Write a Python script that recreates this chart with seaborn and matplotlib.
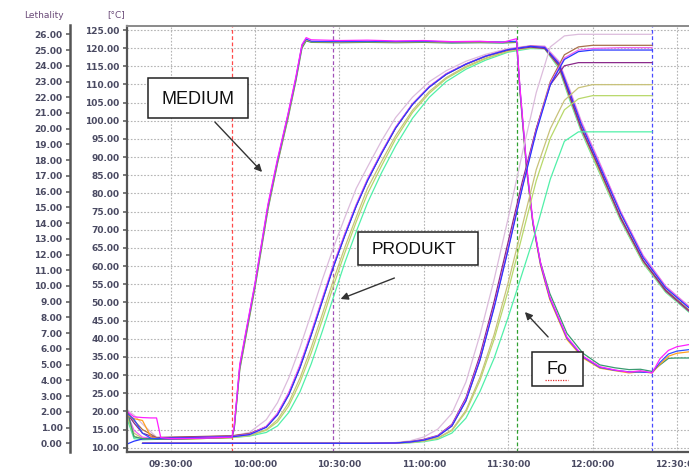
import numpy as np
import pandas as pd
import matplotlib
matplotlib.use('Agg')
import matplotlib.pyplot as plt
from matplotlib.patches import Rectangle
from matplotlib.lines import Line2D
import seaborn as sns

# zeit in minuten ab 09:00:00
tick_minutes = [30, 60, 90, 120, 150, 180, 210]
tick_labels = ['09:30:00', '10:00:00', '10:30:00', '11:00:00', '11:30:00', '12:00:00', '12:30:00']

# ereignis-marker (phasenwechsel)
event_minutes = [51.8, 87.6, 153.0, 201.2]
event_colors = ['#ff4a4a', '#a050b8', '#30a030', '#4a4aff']

# MEDIUM temperatur [°C]
medium_t = [14.5, 17, 20, 23, 25, 26.5, 30, 40, 51.8, 52.6, 54.6, 57, 60, 64.6, 68, 71.7, 74.5, 76.7,
            78.2, 80, 90, 100, 110, 120, 130, 140, 148, 153, 154.2, 156.6, 158.8, 161.5, 164.8,
            170.9, 176.6, 182.6, 188, 193, 197, 201.2, 204, 207, 210, 214.3]
medium_m1 = [20.5, 13.0, 12.5, 12.4, 12.3, 12.3, 12.3, 12.5, 12.8, 15.0, 31.5, 41.5, 54.0, 75.5, 88.2,
             100.5, 110.8, 120.0, 122.0, 121.6, 121.5, 121.6, 121.5, 121.6, 121.4, 121.5, 121.4, 121.6,
             108.0, 86.2, 71.8, 61.0, 52.5, 41.5, 36.0, 32.8, 32.0, 31.5, 31.6, 31.0, 32.8, 34.6, 34.7, 34.7]
medium_m2 = [19.0, 18.0, 17.5, 13.0, 12.6, 12.5, 12.4, 12.5, 12.8, 15.2, 32.0, 42.0, 54.6, 76.0, 88.6,
             101.0, 111.2, 120.5, 122.3, 121.8, 121.7, 121.8, 121.7, 121.8, 121.6, 121.7, 121.6, 121.8,
             108.5, 86.6, 71.6, 60.2, 50.8, 39.8, 34.7, 31.9, 31.2, 30.6, 30.9, 30.6, 33.0, 35.2, 36.0, 36.4]
medium_m3 = [19.5, 17.8, 14.0, 12.6, 12.5, 12.5, 12.4, 12.6, 12.9, 15.5, 32.5, 42.5, 55.0, 76.5, 89.0,
             101.5, 111.5, 120.8, 122.5, 121.9, 121.8, 121.9, 121.8, 121.9, 121.7, 121.8, 121.7, 121.9,
             108.8, 87.0, 72.0, 60.6, 51.2, 40.2, 35.0, 32.1, 31.3, 30.9, 30.8, 30.7, 33.5, 35.8, 36.6, 37.0]
medium_m4 = [20.0, 18.5, 18.3, 18.2, 18.2, 12.8, 12.5, 12.6, 12.9, 16.0, 33.0, 43.0, 55.3, 77.0, 89.5,
             101.8, 112.0, 121.0, 122.9, 122.3, 122.1, 122.2, 122.0, 122.1, 121.8, 121.9, 121.6, 122.6,
             109.3, 87.5, 72.5, 61.0, 51.5, 40.5, 35.2, 32.3, 31.4, 30.8, 31.2, 30.6, 34.5, 36.8, 37.8, 38.4]

# PRODUKT temperatur [°C]
produkt_t = [14.5, 17, 20, 25, 51.8, 58, 64, 68, 72, 76, 80, 84, 88, 92, 96, 100, 105, 110, 116, 122,
             128, 135, 142, 150, 158, 163, 168, 172, 176, 182, 190, 198, 206, 214.3]
produkt_p1 = [20.5, 19.0, 16.5, 12.9, 13.2, 14.2, 17.7, 22.4, 29.2, 37.6, 46.9, 56.4, 65.3, 73.5, 81.4,
              87.3, 94.5, 100.9, 106.5, 110.8, 113.8, 116.4, 118.3, 119.9, 120.7, 120.6, 116.5, 108.5,
              100.0, 89.5, 75.0, 63.0, 54.5, 49.0]
produkt_p2 = [18.0, 12.5, 12.2, 12.3, 12.8, 13.2, 14.2, 16.0, 19.7, 25.4, 33.1, 42.2, 51.7, 61.1, 69.5,
              77.4, 85.7, 93.1, 100.7, 106.5, 110.8, 114.2, 116.7, 118.9, 119.9, 119.8, 114.5, 105.5,
              97.0, 86.5, 72.5, 60.8, 52.8, 47.3]
produkt_p3 = [18.8, 13.2, 12.4, 12.3, 12.8, 13.3, 14.8, 17.1, 21.5, 28.0, 36.1, 45.3, 54.8, 63.8, 72.2,
              79.9, 87.6, 95.0, 102.3, 107.6, 111.6, 114.7, 117.1, 119.1, 120.1, 119.9, 114.8, 106.0,
              97.4, 86.8, 72.8, 61.0, 53.0, 47.5]
produkt_p4 = [19.2, 14.0, 12.6, 12.4, 12.9, 13.4, 15.0, 17.7, 22.4, 29.2, 37.6, 46.9, 56.4, 65.3, 73.5,
              81.4, 88.8, 95.9, 102.9, 108.1, 111.9, 115.0, 117.3, 119.3, 120.2, 120.0, 115.0, 106.2,
              97.6, 87.0, 73.0, 61.2, 53.2, 47.6]
produkt_p5 = [19.8, 17.5, 15.0, 12.8, 13.3, 13.9, 15.7, 19.1, 24.6, 32.1, 41.1, 50.6, 60.1, 68.6, 76.6,
              83.6, 91.1, 98.0, 104.5, 109.3, 112.8, 115.6, 117.8, 119.6, 120.6, 120.3, 115.6, 106.8,
              98.2, 87.5, 73.5, 61.5, 53.5, 47.9]
produkt_p6 = [19.5, 16.8, 14.0, 12.7, 13.2, 13.8, 15.8, 19.3, 24.9, 32.4, 41.4, 50.9, 60.3, 68.8, 76.7,
              83.7, 91.2, 98.1, 104.6, 109.4, 112.9, 115.6, 117.8, 119.5, 120.3, 119.9, 115.2, 106.5,
              97.8, 87.8, 73.2, 61.5, 53.2, 47.6]
produkt_p7 = [19.5, 14.8, 12.9, 12.5, 13.1, 13.7, 15.9, 19.5, 25.2, 32.8, 41.8, 51.3, 60.7, 69.1, 77.0,
              84.0, 91.4, 98.3, 104.7, 109.5, 113.0, 115.7, 117.9, 119.7, 120.6, 120.4, 116.2, 108.0,
              99.6, 89.2, 75.0, 62.8, 54.4, 48.8]
produkt_p8 = [11.0, 11.8, 12.4, 12.6, 13.0, 13.6, 15.6, 19.0, 24.5, 32.0, 41.0, 50.5, 60.0, 68.5, 76.5,
              83.5, 91.0, 98.0, 104.5, 109.3, 112.8, 115.6, 117.8, 119.6, 120.5, 120.2, 115.8, 107.5,
              99.0, 88.5, 74.5, 62.3, 54.0, 48.5]

# Fo (lethality)
fo_t = [20, 51.8, 100, 110, 115, 120, 125, 130, 135, 140, 145, 150, 155, 160, 165, 170, 175, 180, 190, 201.2]
fo_p1 = [0, 0, 0, 0.05, 0.15, 0.4, 0.9, 1.9, 3.9, 6.9, 10.4, 14.3, 18.4, 22.3, 25.2, 25.9, 26.0, 26.0, 26.0, 26.0]
fo_p2 = [0, 0, 0, 0, 0.03, 0.1, 0.25, 0.65, 1.6, 3.3, 5.4, 8.0, 10.8, 13.6, 16.8, 19.2, 19.8, 19.8, 19.8, 19.8]
fo_p3 = [0, 0, 0, 0.01, 0.05, 0.14, 0.32, 0.8, 2.0, 4.0, 6.6, 9.7, 13.2, 16.7, 19.4, 21.2, 21.9, 22.1, 22.1, 22.1]
fo_p4 = [0, 0, 0, 0.01, 0.05, 0.15, 0.35, 0.85, 2.1, 4.2, 6.9, 10.2, 13.8, 17.4, 20.0, 21.8, 22.6, 22.8, 22.8, 22.8]
fo_p5 = [0, 0, 0, 0.02, 0.08, 0.2, 0.45, 1.1, 2.7, 5.3, 8.7, 12.4, 16.3, 20.0, 23.0, 24.7, 25.2, 25.3, 25.3, 25.3]
fo_p6 = [0, 0, 0, 0.02, 0.1, 0.25, 0.5, 1.2, 2.9, 5.6, 9.0, 12.8, 16.6, 20.0, 22.8, 24.0, 24.2, 24.2, 24.2, 24.2]
fo_p7 = [0, 0, 0, 0.02, 0.08, 0.22, 0.48, 1.15, 2.8, 5.4, 8.7, 12.4, 16.3, 19.9, 22.9, 24.5, 25.0, 25.1, 25.15, 25.15]
fo_p8 = [0, 0, 0, 0.02, 0.08, 0.2, 0.45, 1.1, 2.7, 5.3, 8.6, 12.3, 16.2, 19.8, 22.8, 24.4, 24.9, 25.0, 25.0, 25.0]

medium_colors = {'M1': '#3a9a70', 'M2': '#ffa020', 'M3': '#3050ff', 'M4': '#ff20ff'}
probe_colors = {'P1': '#dcbcdc', 'P2': '#50f0a8', 'P3': '#b8d86a', 'P4': '#c8c27a',
                'P5': '#a8704a', 'P6': '#8a2a8a', 'P7': '#f060f0', 'P8': '#2838ff'}


def long_frame(times, series):
    parts = [pd.DataFrame({'t': times, 'v': vals, 'sensor': name}) for name, vals in series.items()]
    return pd.concat(parts, ignore_index=True)


df_medium = long_frame(medium_t, {'M1': medium_m1, 'M2': medium_m2, 'M3': medium_m3, 'M4': medium_m4})
df_produkt = long_frame(produkt_t, {'P1': produkt_p1, 'P2': produkt_p2, 'P3': produkt_p3, 'P4': produkt_p4,
                                    'P5': produkt_p5, 'P6': produkt_p6, 'P7': produkt_p7, 'P8': produkt_p8})
df_fo = long_frame(fo_t, {'P1': fo_p1, 'P2': fo_p2, 'P3': fo_p3, 'P4': fo_p4,
                          'P5': fo_p5, 'P6': fo_p6, 'P7': fo_p7, 'P8': fo_p8})

sns.set_style('white')
plt.rcParams['font.family'] = ['DejaVu Sans']

W, H = 689, 468
fig = plt.figure(figsize=(W / 100, H / 100), dpi=100)


def px(x, y):
    return (x / W, 1 - y / H)


ax = fig.add_axes([127 / W, 1 - 452 / H, (W - 127) / W, (452 - 25.5) / H])
ax2 = ax.twinx()
ax2.yaxis.tick_left()

ax.set_xlim(14.5, 214.3)
ax.set_ylim(8.82, 126.24)
ax2.set_ylim(-0.553, 26.56)

# gitter
ax.set_xticks(tick_minutes)
ax.set_yticks(np.arange(10, 126, 5))
ax.grid(True, color='#b4b4b4', ls=(0, (1.5, 1.5)), lw=0.8)
ax.set_axisbelow(True)

for x, c in zip(event_minutes, event_colors):
    ax.axvline(x, color=c, ls=(0, (3, 2)), lw=0.9, zorder=1)

sns.lineplot(data=df_produkt, x='t', y='v', hue='sensor', palette=probe_colors, estimator=None,
             sort=False, legend=False, ax=ax, lw=0.9)
sns.lineplot(data=df_medium, x='t', y='v', hue='sensor', palette=medium_colors, estimator=None,
             sort=False, legend=False, ax=ax, lw=0.9)
sns.lineplot(data=df_fo, x='t', y='v', hue='sensor', palette=probe_colors, estimator=None,
             sort=False, legend=False, ax=ax2, lw=0.9)

lab_col = '#4a4a62'
spine_col = '#555555'

ax.set_xlabel('')
ax.set_ylabel('')
ax2.set_ylabel('')
ax.set_xticklabels(tick_labels)
ax.set_yticklabels(['%.2f' % v for v in np.arange(10, 126, 5)])
ax2.set_yticks(range(0, 27))
ax2.set_yticklabels(['%.2f' % v for v in range(0, 27)])
ax2.spines['left'].set_position(('outward', 41))

for a in (ax, ax2):
    a.tick_params(axis='both', direction='out', length=3, width=1.1, color=spine_col, pad=2.5,
                  labelsize=6.5, labelcolor=lab_col)
    for lbl in a.get_xticklabels() + a.get_yticklabels():
        lbl.set_fontweight('bold')

ax.spines['right'].set_visible(False)
for s in ['right', 'top', 'bottom']:
    ax2.spines[s].set_visible(False)
ax.spines['left'].set_color(spine_col)
ax.spines['left'].set_linewidth(1.6)
ax.spines['bottom'].set_color(spine_col)
ax.spines['bottom'].set_linewidth(1.6)
ax.spines['top'].set_color('#8a8a8a')
ax.spines['top'].set_linewidth(1.4)
ax2.spines['left'].set_color(spine_col)
ax2.spines['left'].set_linewidth(1.8)

fig.text(*px(24, 15), 'Lethality', fontsize=6.5, color='#6a4a78', ha='left', va='center')
fig.text(*px(107, 15), '[°C]', fontsize=6.5, color='#6a4a78', ha='left', va='center')

# beschriftungsboxen mit pfeilen
boxes = [('MEDIUM', (148, 78, 100, 40), (198, 99), (213, 120), (264, 174)),
         ('PRODUKT', (358, 232, 120, 33), (414, 250), (397, 277), (338, 300)),
         ('Fo', (532, 352, 51, 34), (557, 370), (550, 339), (523, 310))]
for label, (bx, by, bw, bh), (tx, ty), start, tip in boxes:
    fig.add_artist(Rectangle(px(bx, by + bh), bw / W, bh / H, transform=fig.transFigure,
                             fc='white', ec='#222222', lw=1.1, zorder=5))
    fig.text(*px(tx, ty), label, fontsize=13 if label != 'PRODUKT' else 12.5,
             family='Liberation Sans', ha='center', va='center', color='#111111', zorder=6)
    ax.annotate('', xy=px(*tip), xytext=px(*start), xycoords='figure fraction',
                textcoords='figure fraction',
                arrowprops=dict(arrowstyle='-|>', color='#333333', lw=1.0, mutation_scale=11),
                zorder=6)

fig.add_artist(Line2D([545 / W, 568 / W], [1 - 380 / H] * 2, color='#e03030', ls=(0, (1, 1)),
                      lw=0.9, zorder=7))

fig.savefig('out.png', dpi=100)
